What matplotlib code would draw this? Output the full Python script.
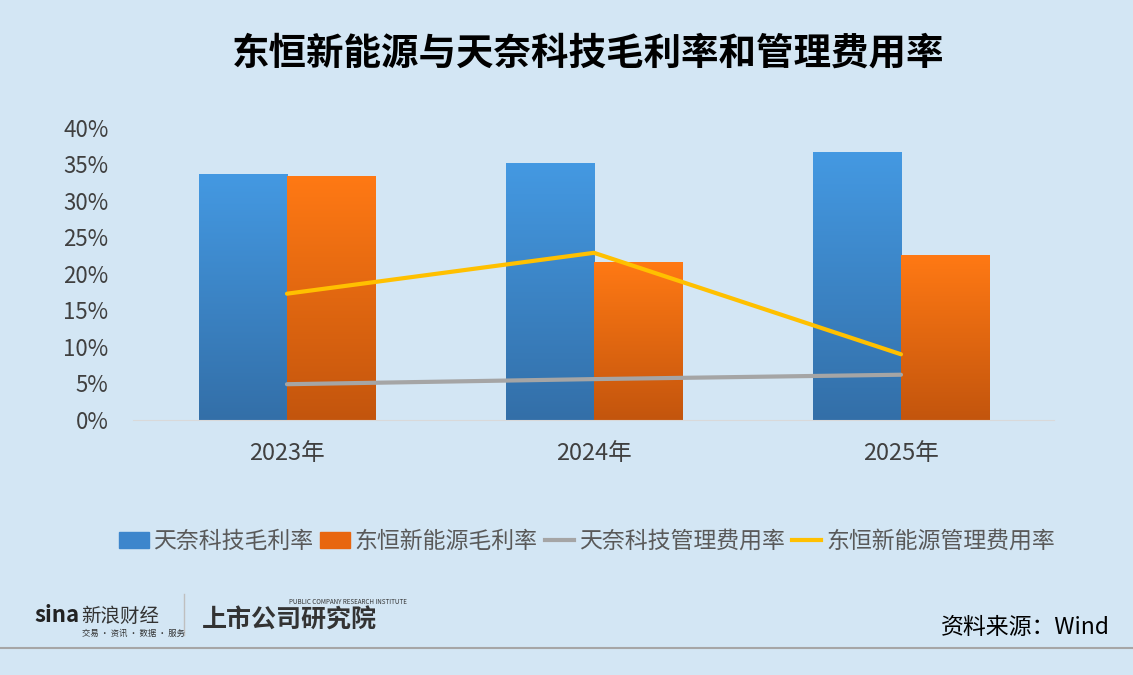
import matplotlib.pyplot as plt
import numpy as np
from matplotlib.colors import LinearSegmentedColormap
from matplotlib.patches import Patch
from matplotlib.lines import Line2D

plt.rcParams['font.family'] = ['Noto Sans CJK SC', 'DejaVu Sans']

years = ['2023年', '2024年', '2025年']
tianai_gross = [33.6, 35.2, 36.7]
dongheng_gross = [33.3, 21.6, 22.6]
tianai_admin = [4.9, 5.6, 6.2]
dongheng_admin = [17.3, 22.9, 9.0]

bg = '#D3E6F4'
fig = plt.figure(figsize=(11.33, 6.75), dpi=100, facecolor=bg)
ax = fig.add_axes([0.1178, 0.3778, 0.8129, 0.4326])
ax.set_facecolor(bg)

blue_cmap = LinearSegmentedColormap.from_list('b', ['#336FA8', '#4499E2'])
orange_cmap = LinearSegmentedColormap.from_list('o', ['#C3550D', '#FF7914'])
grad = np.linspace(0, 1, 256).reshape(-1, 1)

x = np.arange(len(years))
w = 0.287
for i in range(len(years)):
    for x0, h, cm in [(x[i] - w, tianai_gross[i], blue_cmap),
                      (x[i], dongheng_gross[i], orange_cmap)]:
        ax.imshow(grad, cmap=cm, origin='lower', aspect='auto',
                  extent=[x0, x0 + w, 0, h], zorder=2)

ax.plot(x, tianai_admin, color='#A5A5A5', lw=3, zorder=3, solid_capstyle='round')
ax.plot(x, dongheng_admin, color='#FFC000', lw=3, zorder=3, solid_capstyle='round')

ax.set_xlim(-0.5, 2.5)
ax.set_ylim(0, 40)
ax.set_yticks(range(0, 41, 5))
ax.set_yticklabels([f'{v}%' for v in range(0, 41, 5)], fontsize=16, color='#404040')
ax.set_xticks(x)
ax.set_xticklabels(years, fontsize=17, color='#404040')
ax.tick_params(axis='y', length=0, pad=18)
ax.tick_params(axis='x', length=0, pad=16)
for s in ['top', 'right', 'left']:
    ax.spines[s].set_visible(False)
ax.spines['bottom'].set_color('#D9D9D9')

fig.text(0.519, 0.921, '东恒新能源与天奈科技毛利率和管理费用率', ha='center', va='center',
         fontsize=27, fontweight='bold', color='black')

handles = [Patch(color='#3D86CC'), Patch(color='#E8660F'),
           Line2D([], [], color='#A5A5A5', lw=3), Line2D([], [], color='#FFC000', lw=3)]
labels = ['天奈科技毛利率', '东恒新能源毛利率', '天奈科技管理费用率', '东恒新能源管理费用率']
fig.legend(handles, labels, loc='center', bbox_to_anchor=(0.518, 0.198), ncol=4,
           frameon=False, fontsize=16.5, labelcolor='#595959', handlelength=1.3,
           handletextpad=0.2, columnspacing=0.3)

# footer
fig.add_artist(Line2D([0, 1], [0.04, 0.04], color='#A6A6A6', lw=1.5))
fig.add_artist(Line2D([0.162, 0.162], [0.06, 0.12], color='#BFBFBF', lw=1))
fig.text(0.03, 0.078, 'sina', fontsize=16, fontweight='bold', fontstyle='italic', color='#222222')
fig.text(0.072, 0.078, '新浪财经', fontsize=14, color='#333333')
fig.text(0.072, 0.058, '交易 · 资讯 · 数据 · 服务', fontsize=6, color='#333333')
fig.text(0.178, 0.07, '上市公司研究院', fontsize=18, fontweight='bold', fontstyle='italic', color='#333333')
fig.text(0.255, 0.105, 'PUBLIC COMPANY RESEARCH INSTITUTE', fontsize=4.5, color='#333333')
fig.text(0.98, 0.07, '资料来源：Wind', ha='right', va='center', fontsize=16.5, color='black')

fig.savefig('out.png', dpi=100, facecolor=bg)
